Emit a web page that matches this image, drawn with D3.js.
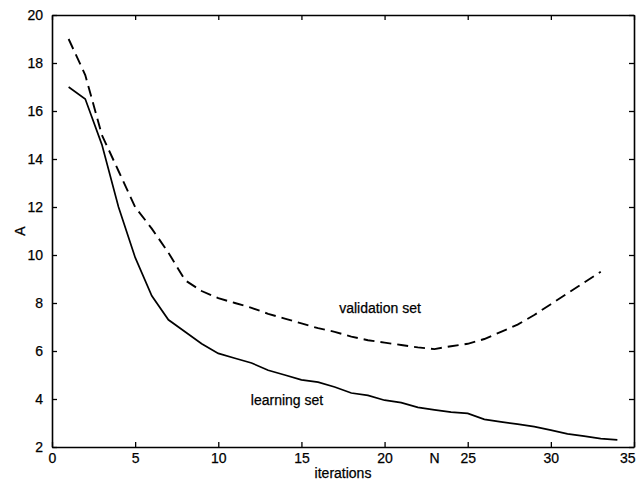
<!DOCTYPE html>
<html>
<head>
<meta charset="utf-8">
<script src="https://cdn.jsdelivr.net/npm/d3@7"></script>
<style>
  body { margin: 0; background: #fff; }
  svg { display: block; font-family: "Liberation Sans", Arial, sans-serif; }
  svg text { stroke: #000; stroke-width: 0.25px; fill: #000; }
</style>
</head>
<body>
<div id="chart"></div>
<script>
// values
const iterations = [1,2,3,4,5,6,7,8,9,10,11,12,13,14,15,16,17,18,19,20,21,22,23,24,25,26,27,28,29,30,31,32,33,34];
const learningSet = [17.0,16.5,14.6,12.0,9.9,8.3,7.3,6.8,6.3,5.9,5.7,5.5,5.2,5.0,4.8,4.7,4.5,4.25,4.15,3.95,3.85,3.65,3.55,3.45,3.4,3.15,3.05,2.95,2.85,2.7,2.55,2.45,2.35,2.3];
const validationIter = [1,2,3,4,5,6,7,8,9,10,11,12,13,14,15,16,17,18,19,20,21,22,23,24,25,26,27,28,29,30,31,32,33];
const validationSet = [19.0,17.5,15.0,13.5,12.0,11.1,10.1,8.95,8.5,8.2,8.0,7.8,7.55,7.35,7.15,6.95,6.8,6.6,6.45,6.35,6.25,6.15,6.08,6.2,6.3,6.5,6.8,7.1,7.5,7.95,8.4,8.85,9.3];
const xTicks = [0,5,10,15,20,25,30,35];
const yTicks = [2,4,6,8,10,12,14,16,18,20];
const markN = 23;

const W = 638, H = 487;
const MARGIN = { left: 52, right: 4, top: 15, bottom: 40 };
const innerW = W - MARGIN.left - MARGIN.right;
const innerH = H - MARGIN.top - MARGIN.bottom;

const svg = d3.select("#chart").append("svg")
  .attr("width", W)
  .attr("height", H);

const g = svg.append("g")
  .attr("transform", "translate(" + MARGIN.left + "," + MARGIN.top + ")");

const x = d3.scaleLinear().domain([0, 35]).range([0, innerW]);
const y = d3.scaleLinear().domain([2, 20]).range([innerH, 0]);

// inward ticks like the original plot
const tickLen = 5;
const bottomAxis = d3.axisBottom(x).tickValues(xTicks).tickSizeInner(-tickLen).tickSizeOuter(0).tickPadding(6);
const leftAxis = d3.axisLeft(y).tickValues(yTicks).tickSizeInner(-tickLen).tickSizeOuter(0).tickPadding(9);

const gx = g.append("g").attr("transform", "translate(0," + innerH + ")").call(bottomAxis);
const gy = g.append("g").call(leftAxis);
const gTop = g.append("g").call(d3.axisTop(x).tickValues(xTicks).tickSizeInner(-tickLen).tickSizeOuter(0).tickFormat(""));
const gRight = g.append("g").attr("transform", "translate(" + innerW + ",0)")
  .call(d3.axisRight(y).tickValues(yTicks).tickSizeInner(-tickLen).tickSizeOuter(0).tickFormat(""));

[gx, gy, gTop, gRight].forEach(a => {
  a.select(".domain").attr("stroke", "#000").attr("stroke-width", 1.6);
  a.selectAll(".tick line").attr("stroke", "#000").attr("stroke-width", 1.3);
  a.selectAll("text").attr("font-size", 14).attr("fill", "#000")
    .attr("font-family", "'Liberation Sans', Arial, sans-serif");
});

// last label sits on the window edge, keep it inside
gx.selectAll(".tick text").filter(d => d === 35)
  .attr("text-anchor", "end")
  .attr("dx", 1);

// the "N" marker on the x axis
gx.append("text")
  .attr("x", x(markN))
  .attr("y", 6)
  .attr("dy", "0.71em")
  .attr("text-anchor", "middle")
  .attr("font-size", 14)
  .text("N");

const line = d3.line()
  .x(d => x(d[0]))
  .y(d => y(d[1]));

g.append("path")
  .datum(iterations.map((it, i) => [it, learningSet[i]]))
  .attr("fill", "none")
  .attr("stroke", "#000")
  .attr("stroke-width", 1.7)
  .attr("d", line);

g.append("path")
  .datum(validationIter.map((it, i) => [it, validationSet[i]]))
  .attr("fill", "none")
  .attr("stroke", "#000")
  .attr("stroke-width", 1.9)
  .attr("stroke-dasharray", "11,6")
  .attr("d", line);

// curve labels
g.append("text")
  .attr("x", 380 - MARGIN.left)
  .attr("y", 313 - MARGIN.top)
  .attr("text-anchor", "middle")
  .attr("font-size", 14)
  .text("validation set");

g.append("text")
  .attr("x", 287 - MARGIN.left)
  .attr("y", 405 - MARGIN.top)
  .attr("text-anchor", "middle")
  .attr("font-size", 14)
  .text("learning set");

// axis titles
svg.append("text")
  .attr("x", MARGIN.left + innerW / 2)
  .attr("y", 478)
  .attr("text-anchor", "middle")
  .attr("font-size", 14)
  .text("iterations");

svg.append("text")
  .attr("transform", "translate(25," + (MARGIN.top + innerH / 2) + ") rotate(-90)")
  .attr("text-anchor", "middle")
  .attr("font-size", 14)
  .text("A");
</script>
</body>
</html>
